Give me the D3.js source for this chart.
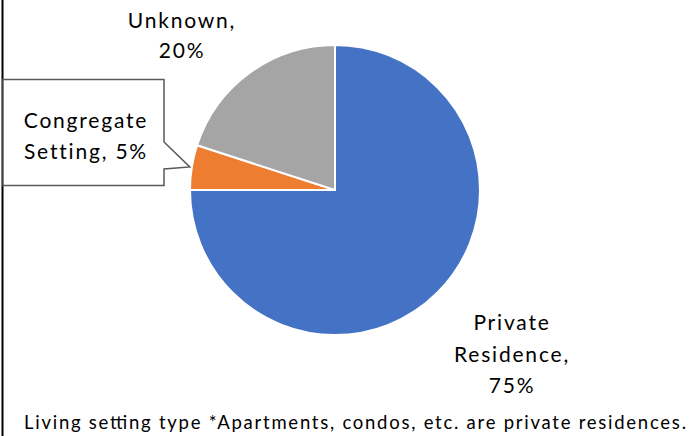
<!DOCTYPE html>
<html>
<head>
<meta charset="utf-8">
<script src="https://cdn.jsdelivr.net/npm/d3@7/dist/d3.min.js"></script>
<style>
  html, body { margin: 0; padding: 0; background: #fff; }
  svg { display: block; font-family: Lato, "Open Sans", sans-serif; }
</style>
</head>
<body>
<svg id="chart"></svg>
<script>
// Living setting shares (percent)
const categories = ['Private Residence', 'Congregate Setting', 'Unknown'];
const values = [75, 5, 20];
const colors = ['#4472C4', '#ED7D31', '#A5A5A5'];
const labelLines = [
  ['Private', 'Residence,', '75%'],
  ['Congregate', 'Setting, 5%'],
  ['Unknown,', '20%']
];
const footnote = 'Living setting type *Apartments, condos, etc. are private residences.';

const width = 690, height = 436;
const cx = 335, cy = 190, radius = 145;

const svg = d3.select('#chart')
  .attr('width', width)
  .attr('height', height)
  .attr('viewBox', `0 0 ${width} ${height}`);

// left border line
svg.append('line')
  .attr('x1', 2.5).attr('x2', 2.5)
  .attr('y1', 0).attr('y2', height)
  .attr('stroke', '#000')
  .attr('stroke-width', 2);

const slices = categories.map((c, i) => ({ name: c, value: values[i], color: colors[i], lines: labelLines[i] }));

const pie = d3.pie().sort(null).value(d => d.value);
const arc = d3.arc().innerRadius(0).outerRadius(radius);
const arcs = pie(slices);

const g = svg.append('g').attr('transform', `translate(${cx}, ${cy})`);

g.selectAll('path.slice')
  .data(arcs)
  .join('path')
  .attr('class', 'slice')
  .attr('d', arc)
  .attr('fill', d => d.data.color)
  .attr('stroke', '#fff')
  .attr('stroke-width', 2)
  .attr('stroke-linejoin', 'round');

// Callout box for the small slice, pointer aims at the slice edge
const small = arcs[1];
const midA = (small.startAngle + small.endAngle) / 2;
const tip = [cx + Math.sin(midA) * (radius + 2), cy - Math.cos(midA) * (radius + 2)];
const box = { x0: 3, x1: 164, y0: 79.5, y1: 185.5 };
svg.append('path')
  .attr('d', `M${box.x0},${box.y0} H${box.x1} V142 L${tip[0]},${tip[1]} L${box.x1},169 V${box.y1} H${box.x0} Z`)
  .attr('fill', '#fff')
  .attr('stroke', '#595959')
  .attr('stroke-width', 1.5);

// label anchors (center x, first baseline, line step)
const labelPos = [
  { x: 512, y: 330, dy: 31.5 },
  { x: 86, y: 128, dy: 31 },
  { x: 182, y: 28, dy: 30 }
];

slices.forEach((s, i) => {
  const p = labelPos[i];
  const t = svg.append('text')
    .attr('text-anchor', 'middle')
    .attr('font-size', '21px')
    .attr('letter-spacing', '1.8px')
    .attr('fill', '#000');
  s.lines.forEach((ln, j) => {
    t.append('tspan')
      .attr('x', p.x)
      .attr('y', p.y + j * p.dy)
      .text(ln);
  });
});

// footnote
svg.append('text')
  .attr('x', 24)
  .attr('y', 429)
  .attr('font-size', '18.5px')
  .attr('fill', '#000')
  .attr('textLength', 662)
  .attr('lengthAdjust', 'spacing')
  .text(footnote);
</script>
</body>
</html>
